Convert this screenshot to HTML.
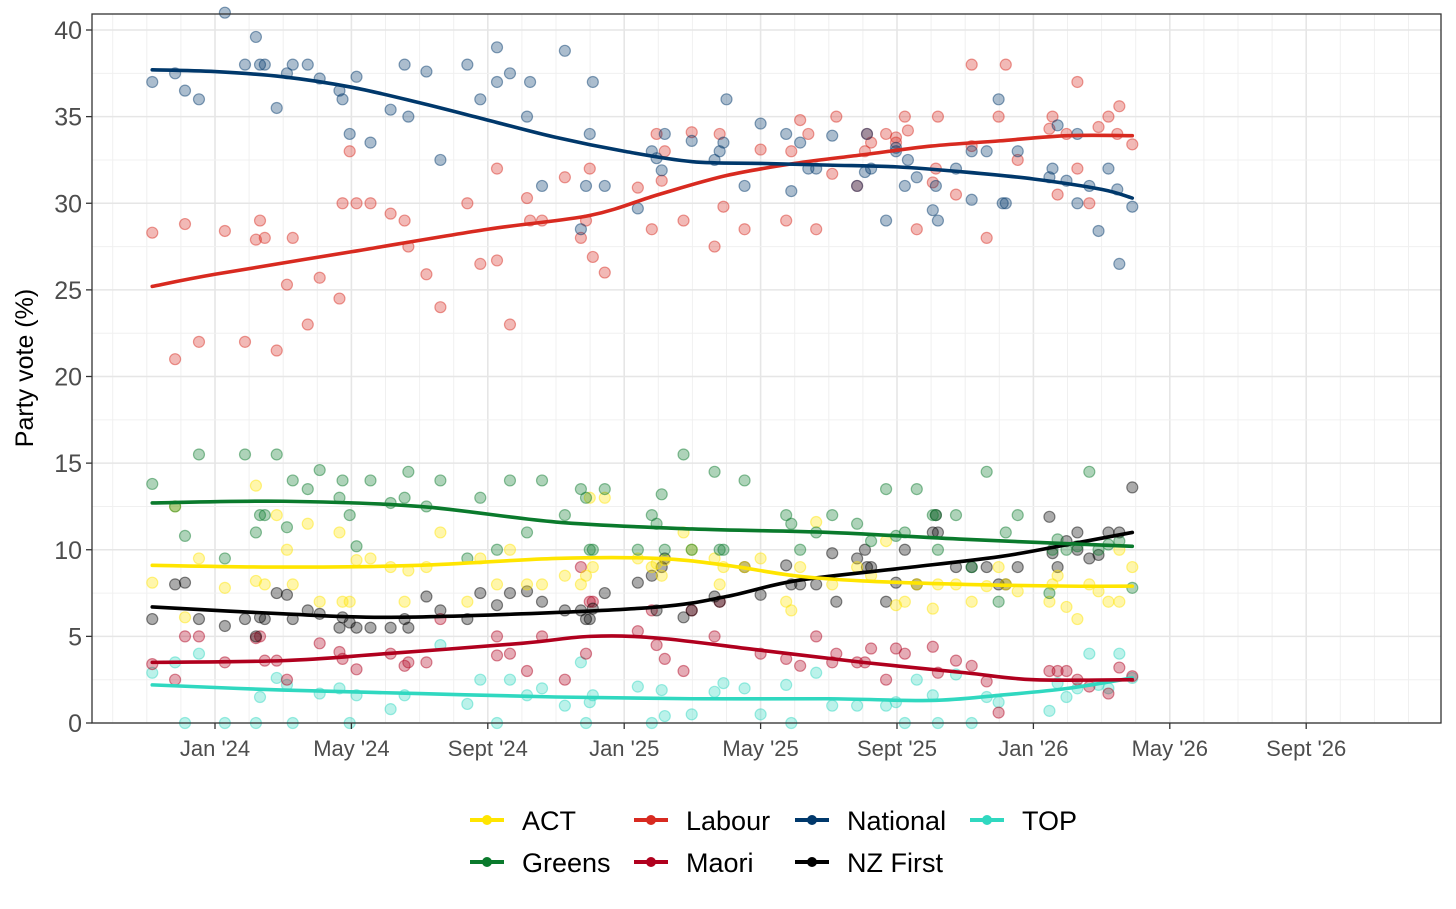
<!DOCTYPE html>
<html><head><meta charset="utf-8"><style>
body{margin:0;background:#fff;font-family:"Liberation Sans",sans-serif}
svg{display:block}
</style></head><body>
<svg id="chart" width="1456" height="909" xmlns="http://www.w3.org/2000/svg">
<rect x="0" y="0" width="1456" height="909" fill="#fff"/>
<g id="grid"></g><g id="pts"></g><g id="lines"></g><g id="axes"></g><g id="legend"></g>
</svg>
<script>
const yTicks=[0,5,10,15,20,25,30,35,40];
const xTickMonths=[0,4,8,12,16,20,24,28,32];
const xTickLabels=["Jan '24","May '24","Sept '24","Jan '25","May '25","Sept '25","Jan '26","May '26","Sept '26"];
const parties=["ACT","Greens","Labour","Maori","National","NZ First","TOP"];
const colors={"ACT":"#FFE500","Greens":"#0A7A2C","Labour":"#D82A20","Maori":"#B0001E","National":"#00386B","NZ First":"#000000","TOP":"#30D8C0"};
const national=[[-1.84,37],[-1.17,37.5],[-0.88,36.5],[-0.47,36],[0.29,41],[0.88,38],[1.2,39.6],[1.32,38],[1.46,38],[1.81,35.5],[2.11,37.5],[2.28,38],[2.72,38],[3.07,37.2],[3.65,36.5],[3.74,36],[3.95,34],[4.15,37.3],[4.56,33.5],[5.15,35.4],[5.56,38],[5.67,35],[6.2,37.6],[6.61,32.5],[7.4,38],[7.78,36],[8.27,39],[8.27,37],[8.65,37.5],[9.15,35],[9.24,37],[9.59,31],[10.26,38.8],[10.73,28.5],[10.88,31],[10.99,34],[11.08,37],[11.43,31],[12.4,29.7],[12.81,33],[12.95,32.6],[13.1,31.9],[13.19,34],[13.98,33.6],[14.65,32.5],[14.8,33],[14.91,33.5],[15,36],[15.53,31],[16,34.6],[16.75,34],[16.9,30.7],[17.16,33.5],[17.4,32],[17.63,32],[18.1,33.9],[18.83,31],[19.06,31.8],[19.12,34],[19.24,32],[19.68,29],[19.97,33.2],[19.97,33],[20.23,31],[20.32,32.5],[20.58,31.5],[21.05,29.6],[21.14,31],[21.2,29],[21.73,32],[22.19,30.2],[22.19,33],[22.63,33],[22.98,36],[23.1,30],[23.19,30],[23.54,33],[24.47,31.5],[24.56,32],[24.71,34.5],[24.97,31.3],[25.29,30],[25.29,34],[25.64,31],[25.91,28.4],[26.2,32],[26.52,26.5],[26.46,30.8],[26.9,29.8]];
const labour=[[-1.84,28.3],[-1.17,21],[-0.88,28.8],[-0.47,22],[0.29,28.4],[0.88,22],[1.2,27.9],[1.32,29],[1.46,28],[1.81,21.5],[2.11,25.3],[2.28,28],[2.72,23],[3.07,25.7],[3.65,24.5],[3.95,33],[4.15,30],[3.74,30],[4.56,30],[5.15,29.4],[5.56,29],[5.67,27.5],[6.2,25.9],[6.61,24],[7.4,30],[7.78,26.5],[8.27,32],[8.27,26.7],[8.65,23],[9.15,30.3],[9.24,29],[9.59,29],[10.26,31.5],[10.73,28],[10.88,29],[10.99,32],[11.08,26.9],[11.43,26],[12.4,30.9],[12.81,28.5],[12.95,34],[13.1,31.3],[13.19,33],[13.98,34.1],[13.74,29],[14.65,27.5],[14.8,34],[14.91,29.8],[15.53,28.5],[16,33.1],[16.75,29],[16.9,33],[17.16,34.8],[17.4,34],[17.63,28.5],[18.1,31.7],[18.22,35],[18.83,31],[19.06,33],[19.12,34],[19.24,33.5],[19.68,34],[19.97,33.8],[19.97,33.5],[20.23,35],[20.32,34.2],[20.58,28.5],[21.05,31.2],[21.14,32],[21.2,35],[21.73,30.5],[22.19,38],[22.19,33.3],[22.63,28],[22.98,35],[23.19,38],[23.54,32.5],[24.47,34.3],[24.56,35],[24.71,30.5],[24.97,34],[25.29,37],[25.29,32],[25.64,30],[25.91,34.4],[26.2,35],[26.52,35.6],[26.46,34],[26.9,33.4]];
const greens=[[-1.84,13.8],[-1.17,12.5],[-0.88,10.8],[-0.47,15.5],[0.29,9.5],[0.88,15.5],[1.2,11],[1.32,12],[1.46,12],[1.81,15.5],[2.11,11.3],[2.28,14],[2.72,13.5],[3.07,14.6],[3.65,13],[3.74,14],[3.95,12],[4.15,10.2],[4.56,14],[5.15,12.7],[5.56,13],[5.67,14.5],[6.2,12.5],[6.61,14],[7.4,9.5],[7.78,13],[8.27,10],[8.65,14],[9.15,11],[9.59,14],[10.26,12],[10.73,13.5],[10.88,13],[10.99,10],[11.08,10],[11.43,13.5],[12.4,10],[12.81,12],[12.95,11.5],[13.1,13.2],[13.19,10],[13.74,15.5],[13.98,10],[14.65,14.5],[14.8,10],[14.91,10],[15.53,14],[16.75,12],[16.9,11.5],[17.16,10],[17.63,11],[18.1,12],[18.83,11.5],[19.24,10.5],[19.68,13.5],[19.97,10.8],[20.23,11],[20.58,13.5],[21.05,12],[21.14,12],[21.2,10],[21.73,12],[22.19,9],[22.63,14.5],[22.98,7],[23.19,11],[23.54,12],[24.47,7.5],[24.56,10],[24.71,10.6],[24.97,10],[25.29,10.2],[25.64,14.5],[25.91,10],[26.2,10.3],[26.52,10.5],[26.9,7.8]];
const act=[[-1.84,8.1],[-1.17,12.5],[-0.88,6.1],[-0.47,9.5],[0.29,7.8],[1.2,13.7],[1.2,8.2],[1.46,8],[1.81,12],[2.11,10],[2.28,8],[2.72,11.5],[3.07,7],[3.65,11],[3.74,7],[3.95,7],[4.15,9.4],[4.56,9.5],[5.15,9],[5.56,7],[5.67,8.8],[6.2,9],[6.61,11],[7.4,7],[7.78,9.5],[8.27,8],[8.65,10],[9.15,8],[9.59,8],[10.26,8.5],[10.73,8],[10.88,8.5],[10.99,13],[11.08,9],[11.43,13],[12.4,9.5],[12.81,9],[12.95,9.2],[13.1,8.5],[13.19,9.4],[13.74,11],[13.98,10],[14.65,9.5],[14.8,8],[14.91,9],[15.53,9],[16,9.5],[16.75,7],[16.9,6.5],[17.16,9],[17.63,11.6],[18.1,8],[18.83,9],[19.24,8.5],[19.68,10.5],[19.97,6.8],[20.23,7],[20.58,8],[21.05,6.6],[21.2,8],[21.73,8],[22.19,7],[22.63,7.9],[22.98,9],[23.19,8],[23.54,7.6],[24.47,7],[24.56,8],[24.71,8.5],[24.97,6.7],[25.29,6],[25.64,8],[25.91,7.6],[26.2,7],[26.52,10],[26.52,7],[26.9,9]];
const nzfirst=[[-1.84,6],[-1.17,8],[-0.88,8.1],[-0.47,6],[0.29,5.6],[0.88,6],[1.2,5],[1.32,6.1],[1.46,6],[1.81,7.5],[2.11,7.4],[2.28,6],[2.72,6.5],[3.07,6.3],[3.65,5.5],[3.74,6.1],[3.95,5.8],[4.15,5.5],[4.56,5.5],[5.15,5.5],[5.56,6],[5.67,5.5],[6.2,7.3],[6.61,6.5],[7.4,6],[7.78,7.5],[8.27,6.8],[8.65,7.5],[9.15,7.6],[9.59,7],[10.26,6.5],[10.73,6.5],[10.88,6],[10.99,6],[11.08,6.6],[11.43,7.5],[12.4,8.1],[12.81,8.5],[12.95,6.5],[13.1,9],[13.19,9.5],[13.74,6.1],[13.98,6.5],[14.65,7.3],[14.8,7],[15.53,9],[16,7.4],[16.75,9.1],[16.9,8],[17.16,8],[17.63,8],[18.1,9.8],[18.22,7],[18.83,9.5],[19.06,10],[19.12,9],[19.24,9],[19.68,7],[19.97,8.1],[20.23,10],[20.58,8],[21.05,11],[21.14,12],[21.2,11],[21.73,9],[22.19,9],[22.63,9],[22.98,8],[23.19,8],[23.54,9],[24.47,11.9],[24.56,9.8],[24.71,9],[24.97,10.5],[25.29,11],[25.29,10],[25.64,9.5],[25.91,9.7],[26.2,11],[26.52,11],[26.9,13.6]];
const maori=[[-1.84,3.4],[-1.17,2.5],[-0.88,5],[-0.47,5],[0.29,3.5],[1.2,4.9],[1.32,5],[1.46,3.6],[1.81,3.6],[2.11,2.5],[3.07,4.6],[3.65,4.1],[3.74,3.7],[4.15,3.1],[5.15,4],[5.56,3.3],[5.67,3.5],[6.2,3.5],[6.61,6],[8.27,5],[8.27,3.9],[8.65,4],[9.15,3],[9.59,5],[10.26,2.5],[10.73,9],[10.88,4],[10.99,7],[11.08,7],[12.4,5.3],[12.81,6.5],[12.95,4.5],[13.19,3.7],[13.74,3],[13.98,6.5],[14.65,5],[14.8,7],[16,4],[16.75,3.7],[17.16,3.3],[17.63,5],[18.1,3.5],[18.22,4],[18.83,3.5],[19.06,3.5],[19.24,4.3],[19.68,2.5],[19.97,4.3],[20.23,4],[21.05,4.4],[21.2,2.9],[21.73,3.6],[22.19,3.3],[22.63,2.4],[22.98,0.6],[24.47,3],[24.71,3],[24.97,3],[25.29,2.5],[25.64,2.1],[26.2,1.7],[26.52,3.2],[26.9,2.7]];
const top_=[[-1.84,2.9],[-1.17,3.5],[-0.88,0],[-0.47,4],[0.29,0],[1.2,0],[1.32,1.5],[1.81,2.6],[2.11,2.2],[2.28,0],[3.07,1.7],[3.65,2],[3.95,0],[4.15,1.6],[5.15,0.8],[5.56,1.6],[6.61,4.5],[7.4,1.1],[7.78,2.5],[8.27,0],[8.65,2.5],[9.15,1.6],[9.59,2],[10.26,1],[10.73,3.5],[10.88,0],[10.99,1.2],[11.08,1.6],[12.4,2.1],[12.81,0],[13.1,1.9],[13.19,0.4],[13.98,0.5],[14.65,1.8],[14.91,2.3],[15.53,2],[16,0.5],[16.75,2.2],[16.9,0],[17.63,2.9],[18.1,1],[18.83,1],[19.68,1],[19.97,1.2],[20.23,0],[20.58,2.5],[21.05,1.6],[21.2,0],[21.73,2.8],[22.19,0],[22.63,1.5],[22.98,1.2],[24.47,0.7],[24.71,2.3],[24.97,1.5],[25.29,2],[25.64,4],[25.91,2.2],[26.2,2],[26.52,4],[26.9,2.6]];
const trendNational=[[-1.84,37.7],[0,37.6],[2,37.3],[4,36.7],[6,35.8],[8,34.8],[10,33.8],[12,33.0],[14,32.4],[16,32.3],[18,32.2],[20,32.1],[22,31.8],[24,31.4],[26,30.8],[26.9,30.3]];
const trendLabour=[[-1.84,25.2],[0,25.9],[4,27.2],[8,28.5],[11,29.3],[13,30.5],[15,31.6],[17,32.3],[19,32.8],[21,33.3],[23,33.6],[25,33.9],[26.9,33.9]];
const trendGreens=[[-1.84,12.7],[2,12.8],[6,12.5],[10,11.6],[14,11.2],[18,11.0],[22,10.6],[26.9,10.2]];
const trendACT=[[-1.84,9.1],[2,9.0],[6,9.1],[10,9.5],[13,9.5],[15,9.1],[17,8.5],[19,8.2],[22,8.0],[25,7.9],[26.9,7.9]];
const trendNZF=[[-1.84,6.7],[2,6.3],[5,6.1],[9,6.3],[13,6.7],[15,7.3],[17,8.2],[20,8.9],[23,9.6],[25,10.3],[26.9,11.0]];
const trendMaori=[[-1.84,3.5],[2,3.6],[5,4.0],[9,4.6],[11,5.0],[13,4.9],[16,4.2],[19,3.5],[22,2.9],[24,2.5],[26.9,2.5]];
const trendTOP=[[-1.84,2.2],[2,1.9],[6,1.7],[10,1.5],[14,1.4],[18,1.4],[21,1.3],[23,1.6],[25,2.0],[26.9,2.6]];

const NS="http://www.w3.org/2000/svg";
const L=92,R=1441,T=14,B=723;
function X(m){return 215+m*34.1;}
function Y(v){return B-v*17.325;}
function mk(tag,attrs,parent){const e=document.createElementNS(NS,tag);for(const k in attrs)e.setAttribute(k,attrs[k]);parent.appendChild(e);return e;}
const grid=document.getElementById('grid'),pts=document.getElementById('pts'),lines=document.getElementById('lines'),axes=document.getElementById('axes'),leg=document.getElementById('legend');
for(let m=-3;m<=35;m++){const e=mk('line',{x1:X(m),x2:X(m),y1:T,y2:B,stroke:m%4===0?'#e6e6e6':'#f0f0f0','stroke-width':m%4===0?1.6:1},grid);
}
for(let v=0;v<=40;v+=2.5){const e=mk('line',{x1:L,x2:R,y1:Y(v),y2:Y(v),stroke:v%5===0?'#e6e6e6':'#f0f0f0','stroke-width':v%5===0?1.6:1},grid);
}
const seriesPts=[["TOP",top_],["Maori",maori],["NZ First",nzfirst],["ACT",act],["Greens",greens],["Labour",labour],["National",national]];
for(const [p,arr] of seriesPts){const g=mk('g',{},pts);
for(const [m,v] of arr){const c=mk('circle',{cx:X(m),cy:Y(v),r:5.5,fill:colors[p],'fill-opacity':0.33,stroke:colors[p],'stroke-opacity':0.45,'stroke-width':1.2},g);
}}
function path(arr){const P=arr.map(([m,v])=>[X(m),Y(v)]);let d='M'+P[0][0]+','+P[0][1];
for(let i=0;i<P.length-1;i++){const p0=P[Math.max(i-1,0)],p1=P[i],p2=P[i+1],p3=P[Math.min(i+2,P.length-1)];
d+=' C'+(p1[0]+(p2[0]-p0[0])/6)+','+(p1[1]+(p2[1]-p0[1])/6)+' '+(p2[0]-(p3[0]-p1[0])/6)+','+(p2[1]-(p3[1]-p1[1])/6)+' '+p2[0]+','+p2[1];}return d;}
const trends=[["TOP",trendTOP],["Maori",trendMaori],["NZ First",trendNZF],["ACT",trendACT],["Greens",trendGreens],["Labour",trendLabour],["National",trendNational]];
for(const [p,arr] of trends){const e=mk('path',{d:path(arr),fill:'none',stroke:colors[p],'stroke-width':3.6,'stroke-linecap':'round'},lines);
}
let e=mk('rect',{x:L,y:T,width:R-L,height:B-T,fill:'none',stroke:'#333','stroke-width':1.3},axes);

for(const v of yTicks){mk('line',{x1:L-6,x2:L,y1:Y(v),y2:Y(v),stroke:'#333','stroke-width':1.3},axes);
const t=mk('text',{x:L-10,y:Y(v)+9,'text-anchor':'end','font-size':25,fill:'#4d4d4d'},axes);t.textContent=v;
}
xTickMonths.forEach((m,i)=>{mk('line',{x1:X(m),x2:X(m),y1:B,y2:B+6,stroke:'#333','stroke-width':1.3},axes);
const t=mk('text',{x:X(m),y:B+33,'text-anchor':'middle','font-size':22,fill:'#4d4d4d'},axes);t.textContent=xTickLabels[i];
});
e=mk('text',{x:0,y:0,transform:'translate(33,368) rotate(-90)','text-anchor':'middle','font-size':25,fill:'#000'},axes);e.textContent='Party vote (%)';

const legItems=[["ACT",470,820],["Labour",634,820],["National",795,820],["TOP",970,820],["Greens",470,862],["Maori",634,862],["NZ First",795,862]];
for(const [p,x,y] of legItems){const g=mk('g',{},leg);
mk('line',{x1:x,x2:x+34,y1:y,y2:y,stroke:colors[p],'stroke-width':4},g);
mk('circle',{cx:x+17,cy:y,r:5,fill:colors[p]},g);
const t=mk('text',{x:x+52,y:y+10,'font-size':27,fill:'#000'},g);t.textContent=p;}
</script>
</body></html>
